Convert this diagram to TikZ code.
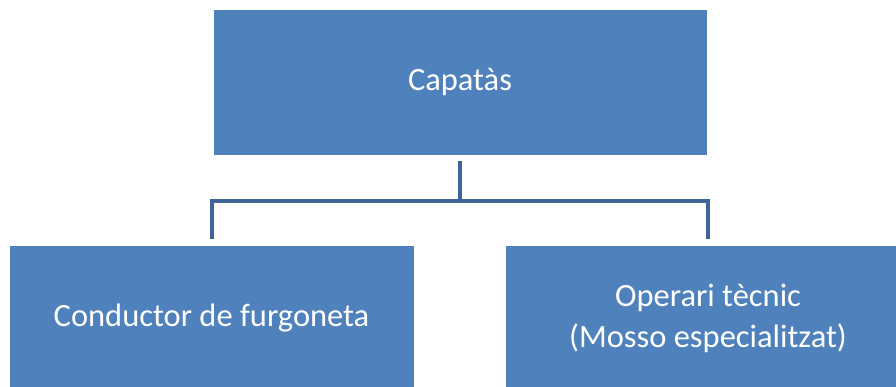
\documentclass[tikz,border=0pt]{standalone}
\usepackage{fontspec}
\setmainfont{Carlito}
\definecolor{boxblue}{RGB}{79,129,189}
\definecolor{linkblue}{RGB}{62,101,150}
\tikzset{
  orgbox/.style={fill=boxblue, draw=white, line width=0.8pt, minimum width=405pt,
    minimum height=146pt, inner sep=0pt, text=white, align=center,
    font=\fontsize{32.5}{41}\selectfont},
  orglink/.style={draw=linkblue, line width=4pt}
}
\begin{document}
\begin{tikzpicture}[x=1pt,y=-1pt]
		\clip (0,0) rectangle (896,387);
		% boxes
		\node[orgbox, minimum width=494pt] (cap) at (460,82.5) {Capatàs};
		\node[orgbox] (cond) at (211.5,318.5) {Conductor de furgoneta};
		\node[orgbox] (oper) at (708,318.5) {Operari tècnic\\(Mosso especialitzat)};
		
		% connectors
		\coordinate (fork) at (460,201);
		\draw[orglink] ([yshift=-5pt]cap.south) -- (fork);
		\draw[orglink] ([yshift=6pt]cond.north) |- (fork) -| ([yshift=6pt]oper.north);
\end{tikzpicture}
\end{document}
